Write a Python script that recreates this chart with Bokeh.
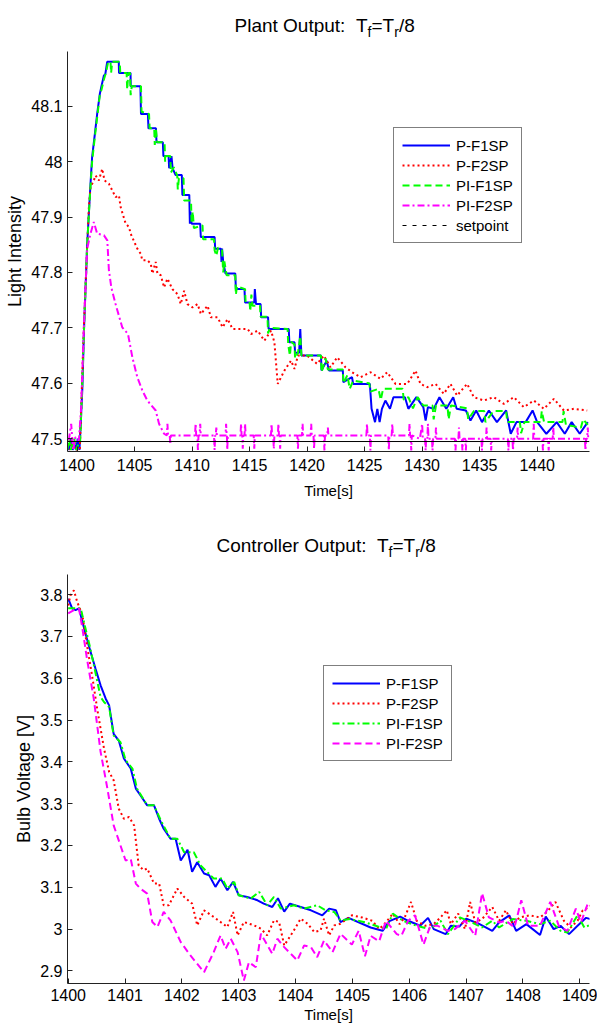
from bokeh.plotting import figure
from bokeh.models import (Legend, LegendItem, Label, Span, FixedTicker,
                          CustomJSTickFormatter, Range1d)
from bokeh.layouts import column
from bokeh.embed import file_html
from bokeh.resources import INLINE

FONT = "Liberation Sans"

# ---------------- Plant output (top) data ----------------
pf1_t = [1399.15, 1399.3, 1399.45, 1399.6, 1399.75, 1399.9, 1400.05, 1400.2,
         1400.45, 1400.6, 1400.87, 1401.0, 1401.16, 1401.3, 1401.54, 1401.74, 1401.97, 1402.09,
         1402.32, 1402.45, 1402.61, 1403.62, 1403.64, 1404.64, 1404.66, 1405.5, 1405.55,
         1406.15, 1406.2, 1406.85, 1406.9, 1407.45, 1407.5, 1407.95, 1408.0, 1408.2, 1408.3,
         1408.55, 1409.1, 1409.15, 1409.75, 1409.8, 1409.85, 1409.95, 1410.7, 1410.75,
         1411.95, 1412.0, 1412.5, 1412.55, 1412.6, 1412.7, 1412.9, 1413.75, 1413.8, 1414.55,
         1414.6, 1415.4, 1415.45, 1415.55, 1415.95, 1416.0, 1416.6, 1416.65, 1418.4, 1418.45,
         1418.9, 1418.95, 1419.3, 1419.4, 1419.5, 1421.2, 1421.25, 1421.7, 1421.9, 1423.1,
         1423.15, 1423.9, 1424.0, 1425.45, 1425.6, 1425.9, 1426.1, 1426.3, 1426.5, 1426.8,
         1427.2, 1427.5, 1428.5, 1428.8, 1429.5, 1430.1, 1430.3, 1430.5, 1431.0, 1431.5,
         1432.1, 1432.7, 1433.0, 1433.8, 1434.2, 1434.7, 1435.2, 1435.8, 1436.5, 1437.3,
         1437.7, 1438.2, 1439.0, 1439.6, 1440.0, 1440.8, 1441.7, 1442.4, 1443.0, 1443.7, 1444.4]
pf1_v = [47.49, 47.48, 47.50, 47.48, 47.49, 47.48, 47.50, 47.48,
         47.59, 47.70, 47.85, 47.90, 47.96, 48.008, 48.05, 48.086, 48.122, 48.134,
         48.155, 48.158, 48.18, 48.18, 48.16, 48.16, 48.136, 48.136, 48.086,
         48.086, 48.06, 48.06, 48.035, 48.035, 48.01, 48.01, 47.988, 48.01, 47.988,
         47.976, 47.976, 47.94, 47.94, 47.888, 47.91, 47.888, 47.888, 47.864,
         47.864, 47.843, 47.843, 47.819, 47.843, 47.819, 47.798, 47.798, 47.770, 47.770,
         47.746, 47.746, 47.77, 47.743, 47.743, 47.719, 47.719, 47.698, 47.698, 47.674,
         47.674, 47.655, 47.655, 47.698, 47.650, 47.650, 47.623, 47.641, 47.623, 47.623,
         47.602, 47.611, 47.599, 47.599, 47.554, 47.530, 47.554, 47.530, 47.554, 47.569,
         47.554, 47.575, 47.575, 47.554, 47.575, 47.557, 47.533, 47.557, 47.554, 47.575,
         47.554, 47.575, 47.554, 47.551, 47.533, 47.551, 47.530, 47.551, 47.530, 47.551,
         47.509, 47.530, 47.530, 47.551, 47.530, 47.509, 47.530, 47.509, 47.530, 47.509, 47.530]

pf2_t = [1399.2, 1399.4, 1399.6, 1399.8, 1400.0, 1400.23, 1400.58, 1400.87, 1401.02, 1401.16,
         1401.45, 1401.60, 1401.89, 1402.18, 1402.38, 1402.76, 1402.91, 1403.34, 1403.63,
         1403.78, 1404.22, 1404.51, 1404.65, 1405.23, 1405.52, 1405.67, 1406.10, 1406.40,
         1406.54, 1406.83, 1406.98, 1407.27, 1407.56, 1407.85, 1408.28, 1408.72, 1409.01,
         1409.30, 1409.59, 1410.03, 1410.47, 1410.76, 1411.34, 1411.63, 1412.21, 1412.65,
         1413.08, 1413.52, 1414.24, 1414.83, 1415.12, 1415.70, 1416.28, 1416.86, 1417.15,
         1417.44, 1418.02, 1418.60, 1418.90, 1419.19, 1419.77, 1420.0, 1420.87, 1421.45,
         1422.03, 1422.61, 1423.33, 1423.91, 1424.64, 1425.51, 1426.38, 1426.96, 1427.68,
         1428.70, 1429.42, 1429.85, 1430.43, 1431.16, 1431.88, 1432.46, 1433.04, 1433.91,
         1434.49, 1435.36, 1436.23, 1437.10, 1437.97, 1438.84, 1439.71, 1440.58, 1441.45,
         1442.32, 1443.19, 1444.35]
pf2_v = [47.49, 47.48, 47.50, 47.48, 47.48, 47.479, 47.70, 47.846, 47.918, 47.954,
         47.966, 47.975, 47.966, 47.987, 47.966, 47.960, 47.954, 47.936, 47.939,
         47.918, 47.888, 47.882, 47.870, 47.843, 47.834, 47.822, 47.822, 47.816,
         47.798, 47.819, 47.798, 47.795, 47.773, 47.789, 47.770, 47.761, 47.743,
         47.767, 47.743, 47.737, 47.743, 47.725, 47.740, 47.719, 47.719, 47.701,
         47.716, 47.698, 47.698, 47.698, 47.689, 47.695, 47.677, 47.695, 47.674,
         47.599, 47.623, 47.641, 47.626, 47.650, 47.650, 47.650, 47.635, 47.650,
         47.629, 47.647, 47.629, 47.620, 47.611, 47.620, 47.608, 47.620, 47.599,
         47.599, 47.623, 47.599, 47.593, 47.599, 47.581, 47.599, 47.578, 47.599,
         47.575, 47.569, 47.575, 47.563, 47.575, 47.557, 47.569, 47.554, 47.572,
         47.551, 47.554, 47.551]

pif1_t = [1399.15, 1399.3, 1399.45, 1399.6, 1399.75, 1399.9, 1400.1, 1400.25,
          1400.45, 1400.6, 1400.87, 1401.0, 1401.16, 1401.3, 1401.54, 1401.74, 1401.97, 1402.12,
          1402.35, 1402.5, 1402.7, 1402.9, 1402.95, 1403.05, 1403.7, 1403.75, 1404.3, 1404.35,
          1404.45, 1404.6, 1404.65, 1404.75, 1405.55, 1405.6, 1406.25, 1406.3, 1406.7, 1406.75,
          1406.85, 1406.95, 1407.6, 1407.65, 1407.75, 1408.1, 1408.15, 1408.4, 1408.7, 1408.75,
          1408.85, 1409.25, 1409.3, 1409.9, 1409.95, 1410.05, 1410.15, 1410.9, 1410.95, 1411.9,
          1411.95, 1412.1, 1412.25, 1412.6, 1412.7, 1412.8, 1413.0, 1413.75, 1413.8, 1413.9,
          1414.6, 1414.65, 1415.0, 1415.05, 1415.15, 1415.25, 1415.9, 1415.95, 1416.55, 1416.6,
          1416.75, 1418.3, 1418.35, 1418.5, 1418.6, 1418.9, 1418.95, 1419.2, 1419.4, 1419.5,
          1421.2, 1421.25, 1421.6, 1421.8, 1423.1, 1423.15, 1423.5, 1423.7, 1424.0, 1425.4,
          1425.5, 1426.2, 1426.4, 1426.6, 1428.3, 1428.4, 1428.8, 1429.2, 1429.6, 1430.1,
          1430.9, 1431.0, 1431.2, 1432.2, 1432.3, 1432.5, 1433.9, 1434.0, 1434.5, 1435.4,
          1435.5, 1436.2, 1437.3, 1437.4, 1438.5, 1438.6, 1438.9, 1440.3, 1440.4, 1440.6,
          1442.2, 1442.3, 1442.5, 1443.8, 1444.0, 1444.4]
pif1_v = [47.48, 47.50, 47.48, 47.49, 47.50, 47.48, 47.49, 47.49,
          47.60, 47.70, 47.85, 47.90, 47.955, 48.0, 48.045, 48.08, 48.12, 48.13,
          48.15, 48.16, 48.18, 48.18, 48.16, 48.18, 48.18, 48.16, 48.16, 48.13,
          48.16, 48.16, 48.12, 48.136, 48.136, 48.09, 48.086, 48.06, 48.06, 48.03,
          48.06, 48.035, 48.035, 48.0, 48.01, 48.01, 47.98, 47.99, 47.975, 47.95,
          47.97, 47.97, 47.93, 47.93, 47.89, 47.91, 47.88, 47.885, 47.86, 47.86,
          47.84, 47.83, 47.845, 47.84, 47.80, 47.82, 47.795, 47.795, 47.76, 47.775,
          47.77, 47.745, 47.745, 47.73, 47.76, 47.74, 47.74, 47.72, 47.72, 47.69,
          47.70, 47.698, 47.67, 47.65, 47.675, 47.67, 47.645, 47.655, 47.685, 47.65,
          47.65, 47.62, 47.645, 47.625, 47.625, 47.60, 47.615, 47.59, 47.605, 47.60,
          47.585, 47.59, 47.57, 47.59, 47.59, 47.57, 47.575, 47.555, 47.575, 47.56,
          47.56, 47.535, 47.56, 47.56, 47.535, 47.56, 47.555, 47.535, 47.55, 47.55,
          47.53, 47.55, 47.55, 47.53, 47.53, 47.51, 47.53, 47.53, 47.55, 47.53,
          47.53, 47.55, 47.525, 47.52, 47.535, 47.525]

pif2_t = [1399.27, 1399.48, 1399.65, 1399.85, 1400.15, 1400.35, 1400.58, 1400.87, 1401.16,
          1401.45, 1401.74, 1402.33, 1402.62, 1402.76, 1402.97, 1403.34, 1403.92, 1404.42,
          1404.80, 1405.23, 1405.67, 1406.10, 1406.83, 1407.12, 1407.56,
          1407.8, 1407.85, 1407.9, 1408.05, 1408.1, 1408.15, 1410.25, 1410.3, 1410.35,
          1410.45, 1410.5, 1410.55, 1410.65, 1410.7, 1410.75, 1411.9, 1411.95, 1412.0,
          1412.05, 1412.1, 1412.15, 1412.9, 1412.95, 1413.0, 1413.02, 1413.05, 1413.1,
          1414.2, 1414.25, 1414.3, 1414.35, 1414.4, 1414.45, 1414.55, 1414.6, 1414.65,
          1415.35, 1415.4, 1415.45, 1416.85, 1416.9, 1416.95, 1417.05, 1417.1, 1417.15,
          1417.45, 1417.5, 1417.55, 1417.6, 1417.65, 1417.7, 1419.15, 1419.2, 1419.25,
          1419.55, 1419.6, 1419.65, 1420.3, 1420.35, 1420.4, 1420.55, 1420.6, 1420.65,
          1421.45, 1421.5, 1421.55, 1421.75, 1421.8, 1421.85, 1425.15, 1425.2, 1425.25,
          1425.45, 1425.5, 1425.55, 1427.05, 1427.1, 1427.15, 1427.35, 1427.4, 1427.45,
          1428.85, 1428.9, 1428.95, 1429.0, 1429.05, 1429.1, 1429.8, 1430.0, 1430.05,
          1430.25, 1430.3, 1430.35, 1430.45, 1430.5, 1430.55, 1430.85, 1430.9, 1430.95,
          1431.15, 1431.2, 1431.25, 1432.85, 1432.9, 1432.95, 1433.15, 1433.2, 1433.25,
          1433.45, 1433.5, 1433.55, 1433.75, 1433.8, 1433.85, 1435.15, 1435.2, 1435.25,
          1435.55, 1435.6, 1435.65, 1435.95, 1436.0, 1436.05, 1437.45, 1437.5, 1437.55,
          1437.85, 1437.9, 1437.95, 1438.25, 1438.3, 1438.35, 1439.65, 1439.7, 1439.75,
          1440.45, 1440.5, 1440.55, 1440.95, 1441.0, 1441.05, 1441.35, 1441.4, 1441.45,
          1444.15, 1444.2, 1444.25, 1444.35, 1444.4, 1444.45]
pif2_v = [47.497, 47.527, 47.479, 47.503, 47.497, 47.557, 47.70, 47.843, 47.870,
          47.891, 47.870, 47.867, 47.858, 47.804, 47.773, 47.743, 47.701, 47.689,
          47.647, 47.611, 47.587, 47.569, 47.551, 47.527, 47.509,
          47.506, 47.527, 47.506, 47.506, 47.490, 47.506, 47.506, 47.527, 47.506,
          47.506, 47.480, 47.506, 47.506, 47.527, 47.506, 47.506, 47.480, 47.506,
          47.506, 47.520, 47.506, 47.506, 47.527, 47.506, 47.506, 47.480, 47.506,
          47.506, 47.527, 47.506, 47.506, 47.482, 47.506, 47.506, 47.527, 47.506,
          47.506, 47.482, 47.506, 47.506, 47.527, 47.506, 47.506, 47.482, 47.506,
          47.506, 47.527, 47.506, 47.506, 47.482, 47.506, 47.506, 47.482, 47.506,
          47.506, 47.527, 47.506, 47.506, 47.527, 47.506, 47.506, 47.482, 47.506,
          47.506, 47.479, 47.506, 47.506, 47.520, 47.506, 47.506, 47.527, 47.506,
          47.506, 47.479, 47.506, 47.506, 47.479, 47.506, 47.506, 47.527, 47.506,
          47.506, 47.527, 47.506, 47.506, 47.479, 47.506, 47.500, 47.527, 47.500,
          47.500, 47.479, 47.500, 47.500, 47.527, 47.500, 47.500, 47.479, 47.500,
          47.500, 47.520, 47.500, 47.500, 47.479, 47.500, 47.500, 47.520, 47.500,
          47.500, 47.479, 47.500, 47.500, 47.479, 47.500, 47.500, 47.479, 47.500,
          47.500, 47.520, 47.500, 47.500, 47.479, 47.500, 47.500, 47.479, 47.500,
          47.500, 47.479, 47.500, 47.500, 47.520, 47.500, 47.500, 47.527, 47.500,
          47.500, 47.479, 47.500, 47.500, 47.479, 47.500, 47.500, 47.520, 47.500,
          47.500, 47.479, 47.500, 47.500, 47.520, 47.500]

setpoint = 47.495

top_xticks = [1400, 1405, 1410, 1415, 1420, 1425, 1430, 1435, 1440]
top_yticks = [47.5, 47.6, 47.7, 47.8, 47.9, 48.0, 48.1]

# ---------------- Controller output (bottom) data ----------------
cf1_t = [1400.00, 1400.07, 1400.13, 1400.19, 1400.25, 1400.36, 1400.48, 1400.57, 1400.66,
         1400.72, 1400.80, 1400.89, 1400.98, 1401.10, 1401.19, 1401.27, 1401.39, 1401.51,
         1401.60, 1401.68, 1401.80, 1401.89, 1401.98, 1402.10, 1402.18, 1402.27, 1402.39,
         1402.48, 1402.59, 1402.68, 1402.80, 1402.90, 1403.00, 1403.15, 1403.33, 1403.44,
         1403.59, 1403.69, 1403.80, 1403.90, 1404.09, 1404.27, 1404.47, 1404.59, 1404.71,
         1404.79, 1404.93, 1405.32, 1405.53, 1405.65, 1405.84, 1405.98, 1406.19, 1406.33,
         1406.43, 1406.64, 1406.73, 1406.88, 1407.00, 1407.22, 1407.46, 1407.58, 1407.76,
         1407.88, 1408.06, 1408.30, 1408.40, 1408.54, 1408.66, 1408.81, 1408.96, 1409.11,
         1409.32]
cf1_v = [3.790, 3.767, 3.763, 3.767, 3.735, 3.679, 3.623, 3.583, 3.551,
         3.535, 3.467, 3.451, 3.408, 3.384, 3.336, 3.320, 3.296, 3.296,
         3.264, 3.240, 3.216, 3.216, 3.164, 3.190, 3.137, 3.160, 3.133,
         3.129, 3.101, 3.121, 3.093, 3.113, 3.081, 3.077, 3.069, 3.061,
         3.053, 3.074, 3.042, 3.061, 3.053, 3.045, 3.033, 3.049, 3.045,
         3.017, 3.027, 3.004, 2.996, 3.019, 3.030, 3.020, 3.008, 3.027,
         3.000, 2.988, 3.008, 3.006, 3.025, 3.013, 2.996, 3.016, 3.033,
         2.996, 3.012, 2.986, 3.030, 3.000, 3.008, 2.988, 3.008, 3.027,
         3.019]

cf2_t = [1400.00, 1400.04, 1400.10, 1400.16, 1400.25, 1400.33, 1400.42, 1400.51, 1400.63,
         1400.72, 1400.80, 1400.89, 1400.98, 1401.07, 1401.16, 1401.24, 1401.33, 1401.39,
         1401.51, 1401.60, 1401.68, 1401.77, 1401.92, 1402.04, 1402.18, 1402.27, 1402.39,
         1402.56, 1402.68, 1402.80, 1402.90, 1402.98, 1403.09, 1403.27, 1403.39, 1403.50,
         1403.62, 1403.71, 1403.80, 1403.97, 1404.09, 1404.21, 1404.33, 1404.44, 1404.50,
         1404.59, 1404.68, 1404.79, 1404.99, 1405.17, 1405.35, 1405.47, 1405.59, 1405.71,
         1405.83, 1405.92, 1406.03, 1406.13, 1406.28, 1406.43, 1406.55, 1406.66, 1406.73,
         1406.86, 1406.98, 1407.07, 1407.16, 1407.28, 1407.46, 1407.58, 1407.70, 1407.82,
         1407.94, 1408.12, 1408.30, 1408.42, 1408.57, 1408.72, 1408.84, 1408.96, 1409.05,
         1409.17, 1409.29]
cf2_v = [3.774, 3.798, 3.810, 3.782, 3.751, 3.679, 3.607, 3.527, 3.432,
         3.376, 3.356, 3.288, 3.264, 3.268, 3.248, 3.152, 3.141, 3.145,
         3.109, 3.109, 3.057, 3.057, 3.097, 3.077, 3.061, 3.009, 3.045,
         3.029, 3.017, 3.005, 3.041, 2.985, 3.017, 3.009, 3.001, 2.985,
         3.021, 3.017, 2.961, 2.997, 3.025, 3.013, 2.993, 2.997, 3.025,
         2.985, 3.009, 3.013, 3.033, 3.028, 3.020, 3.000, 3.016, 3.037,
         3.012, 3.028, 3.065, 3.020, 3.008, 3.012, 3.028, 3.045, 3.012,
         3.037, 3.000, 3.065, 3.016, 3.024, 3.053, 3.020, 3.045, 3.012,
         3.028, 3.033, 3.028, 3.041, 3.065, 3.020, 3.004, 3.020, 3.045,
         3.053, 3.077]

ci1_t = [1400.00, 1400.22, 1400.39, 1400.57, 1400.63, 1400.72, 1400.80, 1400.92, 1401.01,
         1401.13, 1401.21, 1401.39, 1401.51, 1401.63, 1401.80, 1401.92, 1402.04, 1402.21,
         1402.33, 1402.56, 1402.71, 1402.80, 1402.92, 1403.00, 1403.21, 1403.36, 1403.50,
         1403.62, 1403.74, 1403.97, 1404.15, 1404.38, 1404.53, 1404.68, 1404.79, 1404.96,
         1405.23, 1405.41, 1405.59, 1405.71, 1405.89, 1406.13, 1406.37, 1406.55, 1406.68,
         1406.89, 1407.10, 1407.28, 1407.46, 1407.58, 1407.82, 1408.06, 1408.30, 1408.48,
         1408.66, 1408.78, 1408.96, 1409.08, 1409.32]
ci1_v = [3.767, 3.767, 3.671, 3.555, 3.543, 3.531, 3.463, 3.447, 3.404,
         3.384, 3.336, 3.296, 3.296, 3.260, 3.216, 3.216, 3.184, 3.184,
         3.152, 3.121, 3.121, 3.097, 3.113, 3.081, 3.073, 3.089, 3.057,
         3.077, 3.049, 3.057, 3.049, 3.057, 3.045, 3.041, 3.021, 3.024,
         3.016, 3.008, 3.000, 3.037, 3.020, 3.008, 3.000, 3.020, 2.988,
         3.028, 3.016, 3.004, 3.020, 3.004, 3.024, 3.020, 3.012, 3.020,
         2.996, 2.992, 3.033, 3.004, 3.019]

ci2_t = [1400.00, 1400.10, 1400.19, 1400.25, 1400.33, 1400.45, 1400.57, 1400.69, 1400.80,
         1400.92, 1401.01, 1401.10, 1401.19, 1401.27, 1401.39, 1401.48, 1401.57, 1401.68,
         1401.80, 1401.98, 1402.15, 1402.39, 1402.56, 1402.68, 1402.77, 1402.86, 1402.98,
         1403.09, 1403.18, 1403.30, 1403.39, 1403.59, 1403.68, 1403.80, 1404.03, 1404.15,
         1404.27, 1404.38, 1404.50, 1404.65, 1404.79, 1404.99, 1405.11, 1405.22, 1405.32,
         1405.47, 1405.59, 1405.78, 1405.86, 1405.98, 1406.10, 1406.25, 1406.37, 1406.50,
         1406.68, 1406.80, 1406.98, 1407.16, 1407.28, 1407.40, 1407.58, 1407.70, 1407.85,
         1407.97, 1408.09, 1408.30, 1408.48, 1408.63, 1408.78, 1408.93, 1409.02, 1409.14,
         1409.29]
ci2_v = [3.755, 3.763, 3.767, 3.719, 3.647, 3.551, 3.424, 3.336, 3.248,
         3.200, 3.164, 3.168, 3.109, 3.097, 3.085, 3.017, 3.005, 3.041,
         3.021, 2.969, 2.937, 2.897, 2.945, 2.985, 2.953, 2.977, 2.945,
         2.877, 2.921, 2.909, 2.989, 2.941, 2.977, 2.957, 2.925, 2.961,
         2.957, 2.933, 2.973, 2.945, 2.989, 2.963, 2.996, 2.935, 2.984,
         2.971, 3.020, 2.988, 2.984, 3.020, 3.033, 2.963, 3.008, 3.008,
         2.996, 3.000, 3.020, 2.984, 3.086, 3.028, 3.016, 3.020, 3.004,
         3.069, 3.008, 3.008, 3.065, 3.008, 2.996, 3.049, 3.016, 3.061,
         3.045]

bot_xticks = [1400, 1401, 1402, 1403, 1404, 1405, 1406, 1407, 1408, 1409]
bot_yticks = [2.9, 3.0, 3.1, 3.2, 3.3, 3.4, 3.5, 3.6, 3.7, 3.8]

labels = ["P-F1SP", "P-F2SP", "PI-F1SP", "PI-F2SP", "setpoint"]

BLUE, RED, GREEN, MAG = "#0000ff", "#ff0000", "#00ff00", "#ff00ff"
TICK_FMT = CustomJSTickFormatter(code="return String(Number(tick.toFixed(3)));")

FRAME_L, FRAME_R = 67, 589   # page x of the plotting frame (shared by all rows)


def style_axes(p, xticks, yticks, xlabel, ylabel, x_std, x_lab_std):
    for ax in (p.xaxis[0], p.yaxis[0]):
        ax.axis_line_color = "#222222"
        ax.axis_line_width = 1
        ax.major_tick_line_color = "#222222"
        ax.major_tick_in = 5
        ax.major_tick_out = 0
        ax.minor_tick_line_color = None
        ax.major_label_text_font = FONT
        ax.major_label_text_font_size = "16px"
        ax.major_label_text_color = "black"
        ax.axis_label_text_font = FONT
        ax.axis_label_text_font_style = "normal"
        ax.axis_label_text_color = "black"
        ax.formatter = TICK_FMT
    p.xaxis[0].axis_label_text_font_size = "15px"
    p.yaxis[0].axis_label_text_font_size = "18px"
    p.xaxis[0].ticker = FixedTicker(ticks=xticks)
    p.yaxis[0].ticker = FixedTicker(ticks=yticks)
    p.xaxis[0].axis_label = xlabel
    p.yaxis[0].axis_label = ylabel
    p.xaxis[0].major_label_standoff = x_std
    p.xaxis[0].axis_label_standoff = x_lab_std
    p.yaxis[0].major_label_standoff = 5
    p.yaxis[0].axis_label_standoff = 3
    p.xgrid.visible = False
    p.ygrid.visible = False
    p.outline_line_color = None


def title_figure(height, lead, x_lead, w_lead, base):
    """A blank strip holding a title with subscripts (x in page pixels)."""
    t = figure(width=597, height=height, output_backend="svg", toolbar_location=None,
               x_range=Range1d(FRAME_L, FRAME_R), y_range=Range1d(0, height),
               x_axis_type=None, y_axis_type=None, min_border=0)
    t.outline_line_color = None
    t.xgrid.visible = False
    t.ygrid.visible = False
    big, small = 19, 14
    pieces = [
        (lead, x_lead, base, big),
        ("T", x_lead + w_lead, base, big),
        ("f", x_lead + w_lead + 11.6, base - 6, small),
        ("=T", x_lead + w_lead + 15.5, base, big),
        ("r", x_lead + w_lead + 38.2, base - 6, small),
        ("/8", x_lead + w_lead + 42.9, base, big),
    ]
    for txt, x, y, fs in pieces:
        t.add_layout(Label(x=x, y=y, text=txt, text_font=FONT, text_font_size=f"{fs}px",
                           text_color="black", text_baseline="alphabetic", text_align="left"))
    return t


def make_legend(p, items, loc):
    lg = Legend(items=items, location=loc, label_text_font=FONT, label_text_font_size="15px",
                label_text_color="black", glyph_width=48, glyph_height=18, label_height=18,
                label_standoff=6, spacing=2, padding=8, margin=0,
                border_line_color="black", border_line_width=1,
                background_fill_color="white", background_fill_alpha=1.0)
    p.add_layout(lg)


# ---------------- Top figure ----------------
t1 = title_figure(40, "Plant Output:", 234.0, 121.5, 15)

p1 = figure(width=597, height=473, output_backend="svg", toolbar_location=None,
            x_range=Range1d(1399.16, 1444.55), y_range=Range1d(47.477, 48.1987),
            min_border_left=FRAME_L, min_border_right=597 - FRAME_R,
            min_border_top=11, min_border_bottom=62)
style_axes(p1, top_xticks, top_yticks, "Time[s]", "Light Intensity", 7, 8)

r1 = p1.line(pf1_t, pf1_v, line_color=BLUE, line_width=2)
r2 = p1.line(pf2_t, pf2_v, line_color=RED, line_width=2, line_dash="2 3")
r3 = p1.line(pif1_t, pif1_v, line_color=GREEN, line_width=2, line_dash="7 4")
r4 = p1.line(pif2_t, pif2_v, line_color=MAG, line_width=2, line_dash="7 3 2 3")
p1.add_layout(Span(location=setpoint, dimension="width", line_color="black", line_width=1))
r5 = p1.line([float("nan")], [float("nan")], line_color="black", line_width=1, line_dash="4 6")
make_legend(p1, [LegendItem(label=labels[i], renderers=[r]) for i, r in
                 enumerate([r1, r2, r3, r4, r5])], (326, 208))

# ---------------- Bottom figure ----------------
t2 = title_figure(51, "Controller Output:", 216.0, 160.5, 19)

p2 = figure(width=597, height=462, output_backend="svg", toolbar_location=None,
            x_range=Range1d(1399.988, 1409.17), y_range=Range1d(2.870, 3.848),
            min_border_left=FRAME_L, min_border_right=597 - FRAME_R,
            min_border_top=10, min_border_bottom=43)
style_axes(p2, bot_xticks, bot_yticks, "Time[s]", "Bulb Voltage [V]", 5, 2)

q1 = p2.line(cf1_t, cf1_v, line_color=BLUE, line_width=2)
q2 = p2.line(cf2_t, cf2_v, line_color=RED, line_width=2, line_dash="2 3")
q3 = p2.line(ci1_t, ci1_v, line_color=GREEN, line_width=2, line_dash="7 3 2 3")
q4 = p2.line(ci2_t, ci2_v, line_color=MAG, line_width=2, line_dash="7 4")
make_legend(p2, [LegendItem(label=labels[i], renderers=[r]) for i, r in
                 enumerate([q1, q2, q3, q4])], (256, 222))

layout = column(t1, p1, t2, p2, spacing=0)
open("out.html", "w").write(file_html(layout, INLINE))
